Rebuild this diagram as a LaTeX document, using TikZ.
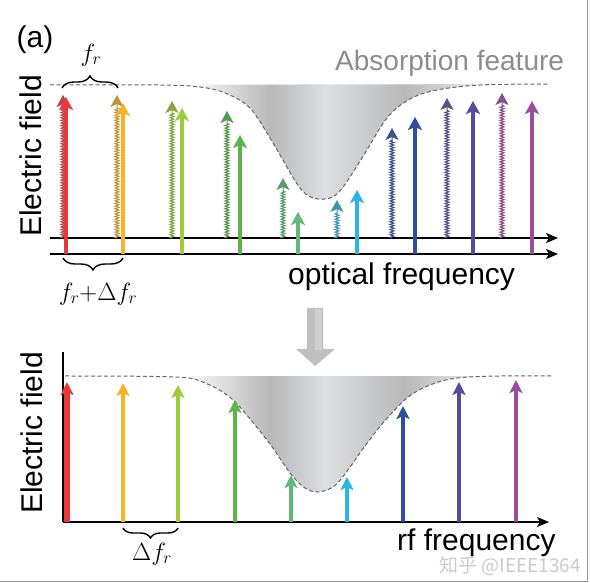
\documentclass[tikz,border=0pt]{standalone}
\usepackage{fontspec}
\setmainfont{Liberation Sans}
\newfontfamily\cjk{Noto Sans CJK SC}
\usetikzlibrary{arrows.meta,decorations.pathmorphing,decorations.pathreplacing}
\definecolor{cred}{HTML}{E8383D}
\definecolor{cora}{HTML}{F6B426}
\definecolor{cyg}{HTML}{9DCB3C}
\definecolor{cgr}{HTML}{5BB548}
\definecolor{cteal}{HTML}{62B77B}
\definecolor{cltb}{HTML}{2AB5E6}
\definecolor{cblu}{HTML}{2E4E9E}
\definecolor{cind}{HTML}{5A4A9E}
\definecolor{cpur}{HTML}{9B4C9E}
\definecolor{absg}{HTML}{8C8C8C}
\definecolor{shdark}{HTML}{B8B8B8}
\definecolor{shlight}{HTML}{DCDEE2}
\begin{document}
\begin{tikzpicture}[x=1pt,y=-1pt,
  axisline/.style={line width=1.4pt,black,-{Stealth[length=12pt,width=10pt,inset=3pt]}},
  solidarr/.style={line width=4.6pt,-{Stealth[length=13pt,width=14pt,inset=3pt]}},
  solidarrb/.style={line width=3.8pt,-{Stealth[length=13pt,width=13pt,inset=3pt]}},
  wavyarr/.style={line width=1pt,decorate,decoration={zigzag,amplitude=2pt,segment length=2.6pt,post length=12pt},-{Stealth[length=12pt,width=13pt,inset=3pt]}},
  dashcurve/.style={dash pattern=on 4pt off 2.5pt,line width=1pt,gray!80!black},
  bracestyle/.style={decorate,line width=1.4pt},
  lbl/.style={font=\fontsize{30}{36}\selectfont,inner sep=0pt},
  mathlbl/.style={font=\fontsize{25}{30}\selectfont,inner sep=0pt}]
\useasboundingbox (0,0) rectangle (590,583);
\fill[white] (0,0) rectangle (590,583);

% ---------- top absorption shading ----------
\begin{scope}
\clip plot[smooth,tension=0.55] coordinates {(50,85) (160,85) (200,87) (225,93) (250,108) (273,143) (300,188) (318,199) (338,193) (362,158) (387,118) (410,99) (437,90) (480,85) (548,84)} -- cycle;
\shade[left color=white,right color=shdark] (185,70) rectangle (271,210);
\shade[left color=shdark,right color=shlight] (270,70) rectangle (326,210);
\shade[left color=shlight,right color=shdark] (325,70) rectangle (406,210);
\shade[left color=shdark,right color=white] (405,70) rectangle (510,210);
\end{scope}
\draw[dashcurve] plot[smooth,tension=0.55] coordinates {(50,85) (160,85) (200,87) (225,93) (250,108) (273,143) (300,188) (318,199) (338,193) (362,158) (387,118) (410,99) (437,90) (480,85) (548,84)};

% ---------- top axes ----------
\coordinate (ua0) at (50,238); \coordinate (ua1) at (558,238);
\coordinate (la0) at (50,254); \coordinate (la1) at (558,254);
\draw[axisline] (ua0) -- (ua1);
\draw[axisline] (la0) -- (la1);

% ---------- top wavy arrows ----------
\foreach \x/\t/\c in {63/95/cred,117/95/cora,172/101/cyg,227/111/cgr,283/178/cteal,337/200/cltb,392/128/cblu,447/98/cind,502/93/cpur}{
  \draw[wavyarr,draw=\c!72!gray!90!black,fill=\c!72!gray!90!black] (\x,238) -- (\x,\t);
}
% ---------- top solid arrows ----------
\foreach \x/\t/\c in {66/97/cred,123/103/cora,182/108/cyg,240/135/cgr,298/212/cteal,357/190/cltb,415/117/cblu,473/101/cind,532/101/cpur}{
  \draw[solidarr,draw=\c,fill=\c] (\x,254) -- (\x,\t);
}

% ---------- top braces and labels ----------
\draw[bracestyle,decoration={brace,amplitude=12pt}] (62,88) -- (118,88);
\node[mathlbl] (fr) at (91,55) {$f_r$};
\draw[bracestyle,decoration={brace,amplitude=12pt}] (123,258) -- (63,258);
\node[mathlbl] (frdf) at (98,294) {$f_r{+}\Delta f_r$};

\node[lbl,rotate=90] (ef1) at (31,156) {Electric field};
\node[lbl] (a) at (35,40) {(a)};
\node[font=\fontsize{28}{34}\selectfont,text=absg,inner sep=0pt,anchor=base west] (abs) at (335,71) {Absorption feature};
\node[lbl,anchor=base west] (opt) at (288,285) {optical frequency};

% ---------- gray transition arrow ----------
\fill[gray!50] (307,308) -- (323,308) -- (323,349) -- (335,349) -- (315,366) -- (296,349) -- (307,349) -- cycle;
\fill[gray!38] (315,309) -- (322,309) -- (322,350) -- (315,350) -- cycle;

% ---------- bottom absorption shading ----------
\begin{scope}
\clip plot[smooth,tension=0.55] coordinates {(65,376) (175,377) (205,383) (233,400) (267,440) (290,473) (305,488) (318,492) (333,487) (345,474) (365,446) (383,423) (407,398) (430,385) (457,378) (500,376) (552,376)} -- cycle;
\shade[left color=white,right color=shdark] (180,360) rectangle (271,500);
\shade[left color=shdark,right color=shlight] (270,360) rectangle (326,500);
\shade[left color=shlight,right color=shdark] (325,360) rectangle (406,500);
\shade[left color=shdark,right color=white] (405,360) rectangle (510,500);
\end{scope}
\draw[dashcurve] plot[smooth,tension=0.55] coordinates {(65,376) (175,377) (205,383) (233,400) (267,440) (290,473) (305,488) (318,492) (333,487) (345,474) (365,446) (383,423) (407,398) (430,385) (457,378) (500,376) (552,376)};

% ---------- bottom axes ----------
\coordinate (vt) at (63,352); \coordinate (orig) at (63,522); \coordinate (hx) at (549,522);
\draw[line width=1.4pt] (vt) -- (orig);
\draw[axisline] (orig) -- (hx);

% ---------- bottom arrows ----------
\draw[solidarrb,line width=5.5pt,draw=cred,fill=cred] (67,522) -- (67,382);
\foreach \x/\t/\c in {123/383/cora,178/385/cyg,235/400/cgr,291/475/cteal,347/477/cltb,403/406/cblu,459/382/cind,516/380/cpur}{
  \draw[solidarrb,draw=\c,fill=\c] (\x,522) -- (\x,\t);
}

\draw[bracestyle,decoration={brace,amplitude=10pt}] (178,528) -- (123,528);
\node[mathlbl] (df) at (152,554) {$\Delta f_r$};

\node[lbl,rotate=90] (ef2) at (32,433) {Electric field};
\node[lbl,anchor=base west] (rf) at (397,550) {rf frequency};

% ---------- watermark and frame ----------
\node[font=\cjk\fontsize{19}{22}\selectfont,text=gray!40,inner sep=0pt] (wm) at (510,566) {知乎 @IEEE1364};
\draw[gray!80,line width=1pt] (587.5,0) -- (587.5,581.5) -- (0,581.5);
\end{tikzpicture}
\end{document}
